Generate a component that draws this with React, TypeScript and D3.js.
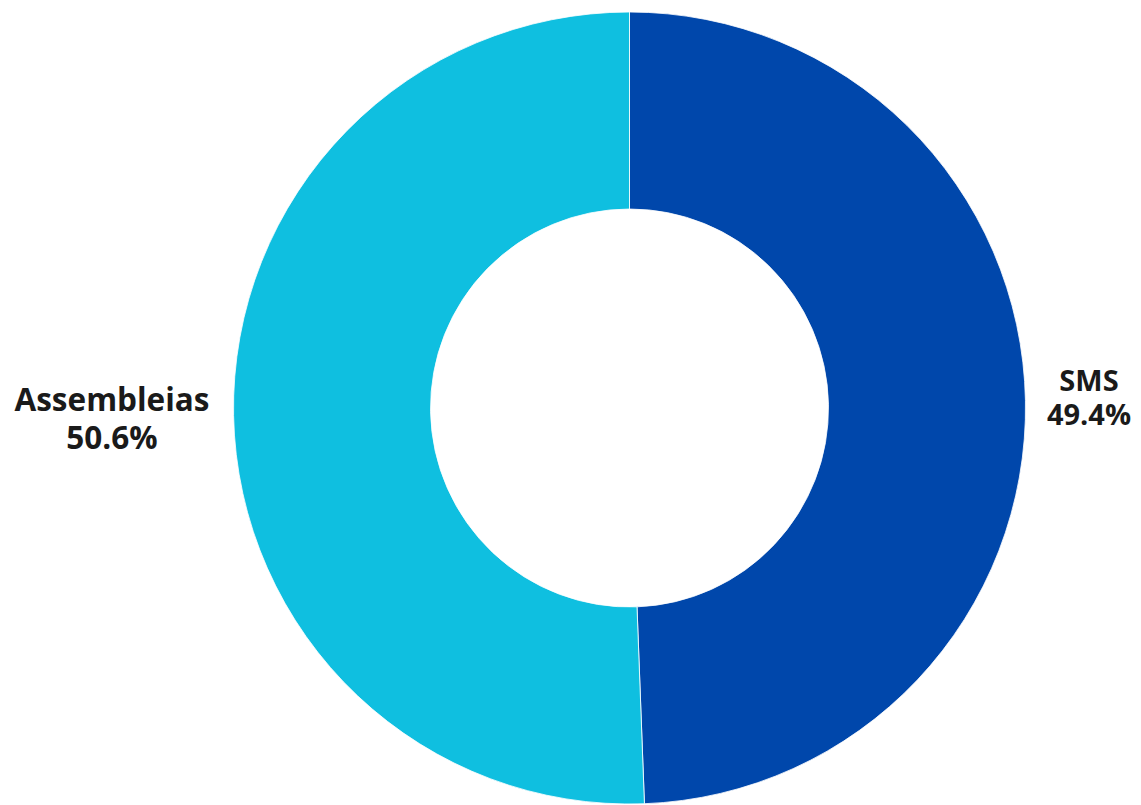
import React from "react";
import * as d3 from "d3";

const categories = ["SMS", "Assembleias"];
const values = [49.4, 50.6];
const colors = ["#0047AB", "#0FBFE0"];

const W = 1141;
const H = 805;
const cx = 629.5;
const cy = 408;
const outerR = 396;
const innerR = 199;

export default function App() {
  const pie = d3.pie<number>().sort(null).value((d) => d)(values);
  const arc = d3.arc<d3.PieArcDatum<number>>().innerRadius(innerR).outerRadius(outerR);
  const labelPos = [
    { x: 1089, y: 391, size: 29, dy: 34 },
    { x: 112, y: 411, size: 31.5, dy: 38 },
  ];
  return (
    <svg width={W} height={H} style={{ position: "absolute", left: 0, top: 0 }}>
      <g transform={`translate(${cx},${cy})`}>
        {pie.map((p, i) => (
          <path key={i} d={arc(p) || ""} fill={colors[i]} stroke="#ffffff" strokeWidth={0.8} />
        ))}
      </g>
      {pie.map((p, i) => (
        <text
          key={"t" + i}
          x={labelPos[i].x}
          y={labelPos[i].y}
          textAnchor="middle"
          fontFamily="'Open Sans', 'Noto Sans', sans-serif"
          fontWeight={700}
          fontSize={labelPos[i].size}
          fill="#1a1a1a"
        >
          <tspan x={labelPos[i].x}>{categories[i]}</tspan>
          <tspan x={labelPos[i].x} dy={labelPos[i].dy}>{d3.format(".1f")(values[i])}%</tspan>
        </text>
      ))}
    </svg>
  );
}
